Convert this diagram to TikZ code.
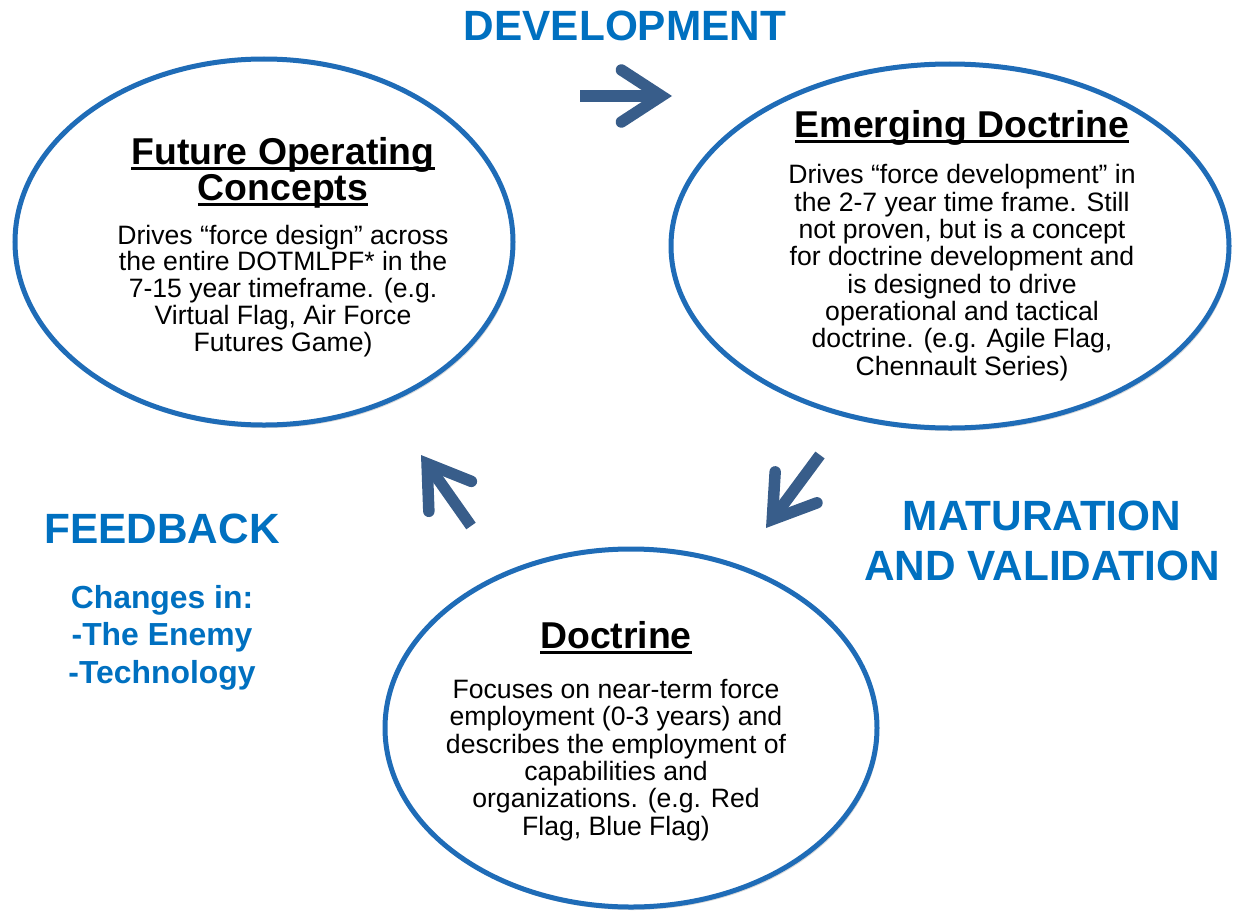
\documentclass[tikz,border=0pt]{standalone}
\usepackage{fontspec}
\setmainfont{Liberation Sans}
\usetikzlibrary{positioning,shapes.geometric,arrows.meta,shadows}

\definecolor{ringblue}{RGB}{31,108,183}
\definecolor{arrowblue}{RGB}{56,93,138}
\definecolor{labelblue}{RGB}{0,112,192}

\newcommand{\ulbox}[1]{\setbox0\hbox{#1}\rlap{\rule[-6bp]{\wd0}{2.8bp}}\box0}

\begin{document}
\begin{tikzpicture}[%
    x=1bp, y=-1bp,
    bubble/.style={ellipse, draw=ringblue, line width=5bp, fill=white, inner sep=0pt,
      drop shadow={shadow xshift=2bp, shadow yshift=-3bp, opacity=.3}},
    heading/.style={font=\fontsize{37.5}{36}\selectfont\bfseries, align=center, inner sep=0pt, anchor=base},
    blurb/.style={font=\fontsize{26.7}{27.4}\selectfont, align=center, inner sep=0pt, anchor=base},
    phase/.style={font=\fontsize{42.5}{50}\selectfont\bfseries, text=labelblue, align=center, inner sep=0pt, anchor=base},
    cyclearrow/.style={line width=11.5bp, draw=arrowblue,
      -{Straight Barb[length=40bp,width=52bp,line cap=round]}},
  ]
    \useasboundingbox (0,0) rectangle (1233,913);

    \node[bubble, minimum width=498bp, minimum height=366bp] (foc) at (264,242) {};
    \node[bubble, minimum width=558bp, minimum height=364bp] (emd) at (950,246) {};
    \node[bubble, minimum width=492bp, minimum height=358bp] (doc) at (631,728) {};

    % base anchor sits on the last line
    \node[heading] (foctitle) at (283,200) {\ulbox{Future Operating}\\\ulbox{Concepts}};
    \node[blurb, font=\fontsize{26.7}{26.8}\selectfont] (foctext) at (283,351)
      {Drives “force design” across\\the entire DOTMLPF* in the\\7-15 year timeframe. (e.g.\\Virtual Flag, Air Force\\Futures Game)};

    \node[heading] (emdtitle) at (962,137) {\ulbox{Emerging Doctrine}};
    \node[blurb] (emdtext) at (962,375) {Drives “force development” in\\the 2-7 year time frame. Still\\not proven, but is a concept\\for doctrine development and\\is designed to drive\\operational and tactical\\doctrine. (e.g. Agile Flag,\\Chennault Series)};

    \node[heading] (doctitle) at (616,648) {\ulbox{Doctrine}};
    \node[blurb] (doctext) at (616,835) {Focuses on near-term force\\employment (0-3 years) and\\describes the employment of\\capabilities and\\organizations. (e.g. Red\\Flag, Blue Flag)};

    \node[phase] (develop) at (625,40) {DEVELOPMENT};
    \node[phase] (mature) at (1042,580) {MATURATION\\AND VALIDATION};
    \node[phase] (feedback) at (162,543) {FEEDBACK};
    \node[phase, font=\fontsize{32}{37.5}\selectfont\bfseries] (changes) at (162,683)
      {Changes in:\\-The Enemy\\-Technology};

    \coordinate (devtail) at (580,96);
    \coordinate (devtip)  at (672,96);
    \coordinate (mattail) at (820,455);
    \coordinate (mattip)  at (766,528);
    \coordinate (fbtail)  at (471,526);
    \coordinate (fbtip)   at (421,455);

    \draw[cyclearrow] (devtail) -- (devtip);
    \draw[cyclearrow] (mattail) -- (mattip);
    \draw[cyclearrow] (fbtail) -- (fbtip);
  \end{tikzpicture}
\end{document}
